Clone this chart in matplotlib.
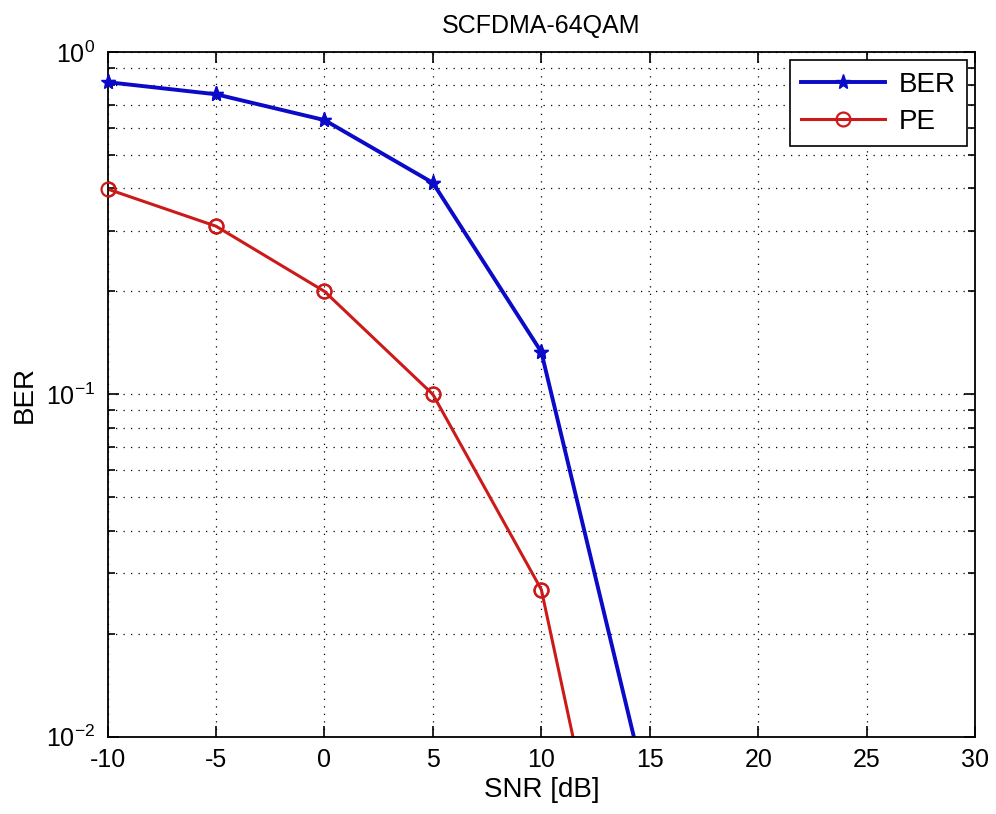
import matplotlib
matplotlib.use("Agg")
import matplotlib.pyplot as plt
from matplotlib.ticker import LogLocator, FixedLocator

plt.rcParams['font.family'] = ['Liberation Sans', 'DejaVu Sans']
plt.rcParams['mathtext.fontset'] = 'custom'
plt.rcParams['mathtext.rm'] = 'Liberation Sans'
plt.rcParams['axes.unicode_minus'] = False

snr = [-10, -5, 0, 5, 10, 15]
ber = [0.817, 0.753, 0.633, 0.415, 0.133, 0.0064]
pe = [0.398, 0.31, 0.2, 0.1, 0.0269, 0.0009]

ymin, ymax = 1e-2, 1

fig = plt.figure(figsize=(9.96, 8.14), dpi=100)
ax = fig.add_axes([0.108, 0.095, 0.871, 0.841])

blue = '#0a0ac8'
red = '#cc1a1a'
ax.semilogy(snr, ber, '-*', color=blue, lw=2.8, ms=11, label='BER')
ax.semilogy(snr, pe, '-o', color=red, lw=2.2, ms=10, mfc='none', mew=1.6, label='PE')

# MATLAB draws markers on the axes edge without clipping
xb = [x for x, y in zip(snr, ber) if y >= ymin]
yb = [y for y in ber if y >= ymin]
xp = [x for x, y in zip(snr, pe) if y >= ymin]
yp = [y for y in pe if y >= ymin]
ax.plot(xb, yb, '*', color=blue, ms=11, clip_on=False, zorder=3)
ax.plot(xp, yp, 'o', color=red, ms=10, mfc='none', mew=1.6, clip_on=False, zorder=3)

ax.set_xlim(-10, 30)
ax.set_ylim(ymin, ymax)
ax.xaxis.set_major_locator(FixedLocator(range(-10, 31, 5)))
ax.yaxis.set_minor_locator(LogLocator(base=10, subs=range(2, 10)))
ax.set_yticks([1e-2, 1e-1, 1])
ax.set_yticklabels([r'$10^{-2}$', r'$10^{-1}$', r'$10^{0}$'])

ax.grid(True, which='major', color='black', linestyle=(0, (1, 5)), lw=0.9)
ax.grid(True, which='minor', axis='y', color='black', linestyle=(0, (1, 5)), lw=0.9)
ax.tick_params(which='both', direction='in', top=True, right=True, labelsize=18, width=1.2)
ax.tick_params(which='major', length=8)
ax.tick_params(which='minor', length=5)
ax.tick_params(axis='x', pad=8)
ax.tick_params(axis='y', pad=9)
for s in ax.spines.values():
    s.set_linewidth(1.3)

ax.set_title('SCFDMA-64QAM', fontsize=18, pad=14)
ax.set_xlabel('SNR [dB]', fontsize=20, labelpad=4)
ax.set_ylabel('BER', fontsize=20, labelpad=6)

handles, labels = ax.get_legend_handles_labels()
leg = ax.legend(handles[:2], labels[:2], loc='upper right', fontsize=20, fancybox=False,
                edgecolor='black', framealpha=1, handlelength=3.0, borderaxespad=0.3,
                labelspacing=0.4, borderpad=0.4, handletextpad=0.5)
leg.get_frame().set_linewidth(1.2)

fig.savefig('out.png', dpi=100)
